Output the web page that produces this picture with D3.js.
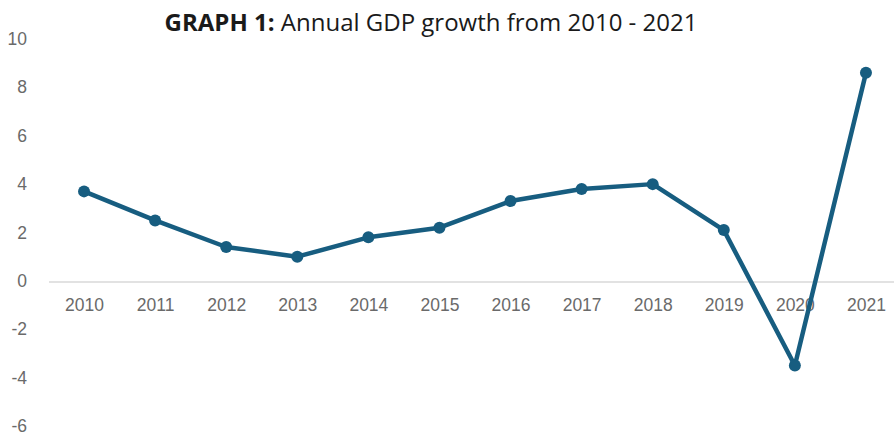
<!DOCTYPE html>
<html>
<head>
<meta charset="utf-8">
<script src="https://cdn.jsdelivr.net/npm/d3@7"></script>
<style>
  html, body { margin: 0; padding: 0; background: #fff; }
  svg { display: block; }
</style>
</head>
<body>
<svg id="chart" width="894" height="435"></svg>
<script>
// Annual GDP growth (%), 2010 - 2021
const years = ["2010", "2011", "2012", "2013", "2014", "2015", "2016", "2017", "2018", "2019", "2020", "2021"];
const growth = [3.7, 2.5, 1.4, 1.0, 1.8, 2.2, 3.3, 3.8, 4.0, 2.1, -3.5, 8.6];
const yTicks = [10, 8, 6, 4, 2, 0, -2, -4, -6];

const svg = d3.select("#chart");
const W = 894, H = 435;

const x = d3.scalePoint()
  .domain(years)
  .range([48.5, 901.5])
  .padding(0.5);

const y = d3.scaleLinear()
  .domain([-6, 10])
  .range([426, 39]);

const lineColor = "#175d80";

// Title
const title = svg.append("text")
  .attr("x", 431)
  .attr("y", 31)
  .attr("text-anchor", "middle")
  .style("font-family", "'Open Sans', sans-serif")
  .style("font-size", "24px")
  .attr("fill", "#1a1a1a");
title.append("tspan").style("font-weight", "bold").text("GRAPH 1:");
title.append("tspan").text(" Annual GDP growth from 2010 - 2021");

// Y axis labels (no axis line), plain hyphen for negatives
const yAxis = d3.axisLeft(y).tickValues(yTicks).tickFormat(d => String(d)).tickSize(0).tickPadding(0);
const gy = svg.append("g").attr("transform", "translate(27,0)").call(yAxis);
gy.select(".domain").remove();
gy.selectAll("text")
  .style("font-family", "'Liberation Sans', Arial, sans-serif")
  .style("font-size", "17.5px")
  .attr("fill", "#6a6a6a");

// Zero baseline
svg.append("line")
  .attr("x1", 49).attr("x2", W)
  .attr("y1", y(0) + 1).attr("y2", y(0) + 1)
  .attr("stroke", "#d9d9d9")
  .attr("stroke-width", 1.5);

// X axis category labels
const xAxis = d3.axisBottom(x).tickSize(0).tickPadding(0);
const gx = svg.append("g").attr("transform", `translate(0,${y(0) + 18})`).call(xAxis);
gx.select(".domain").remove();
gx.selectAll("text")
  .style("font-family", "'Liberation Sans', Arial, sans-serif")
  .style("font-size", "17.5px")
  .attr("fill", "#6a6a6a");

// Growth line
const line = d3.line()
  .x((d, i) => x(years[i]))
  .y(d => y(d));

svg.append("path")
  .datum(growth)
  .attr("d", line)
  .attr("fill", "none")
  .attr("stroke", lineColor)
  .attr("stroke-width", 4.5)
  .attr("stroke-linejoin", "round");

svg.append("g")
  .selectAll("circle")
  .data(growth)
  .join("circle")
  .attr("cx", (d, i) => x(years[i]))
  .attr("cy", d => y(d))
  .attr("r", 6)
  .attr("fill", lineColor);
</script>
</body>
</html>
